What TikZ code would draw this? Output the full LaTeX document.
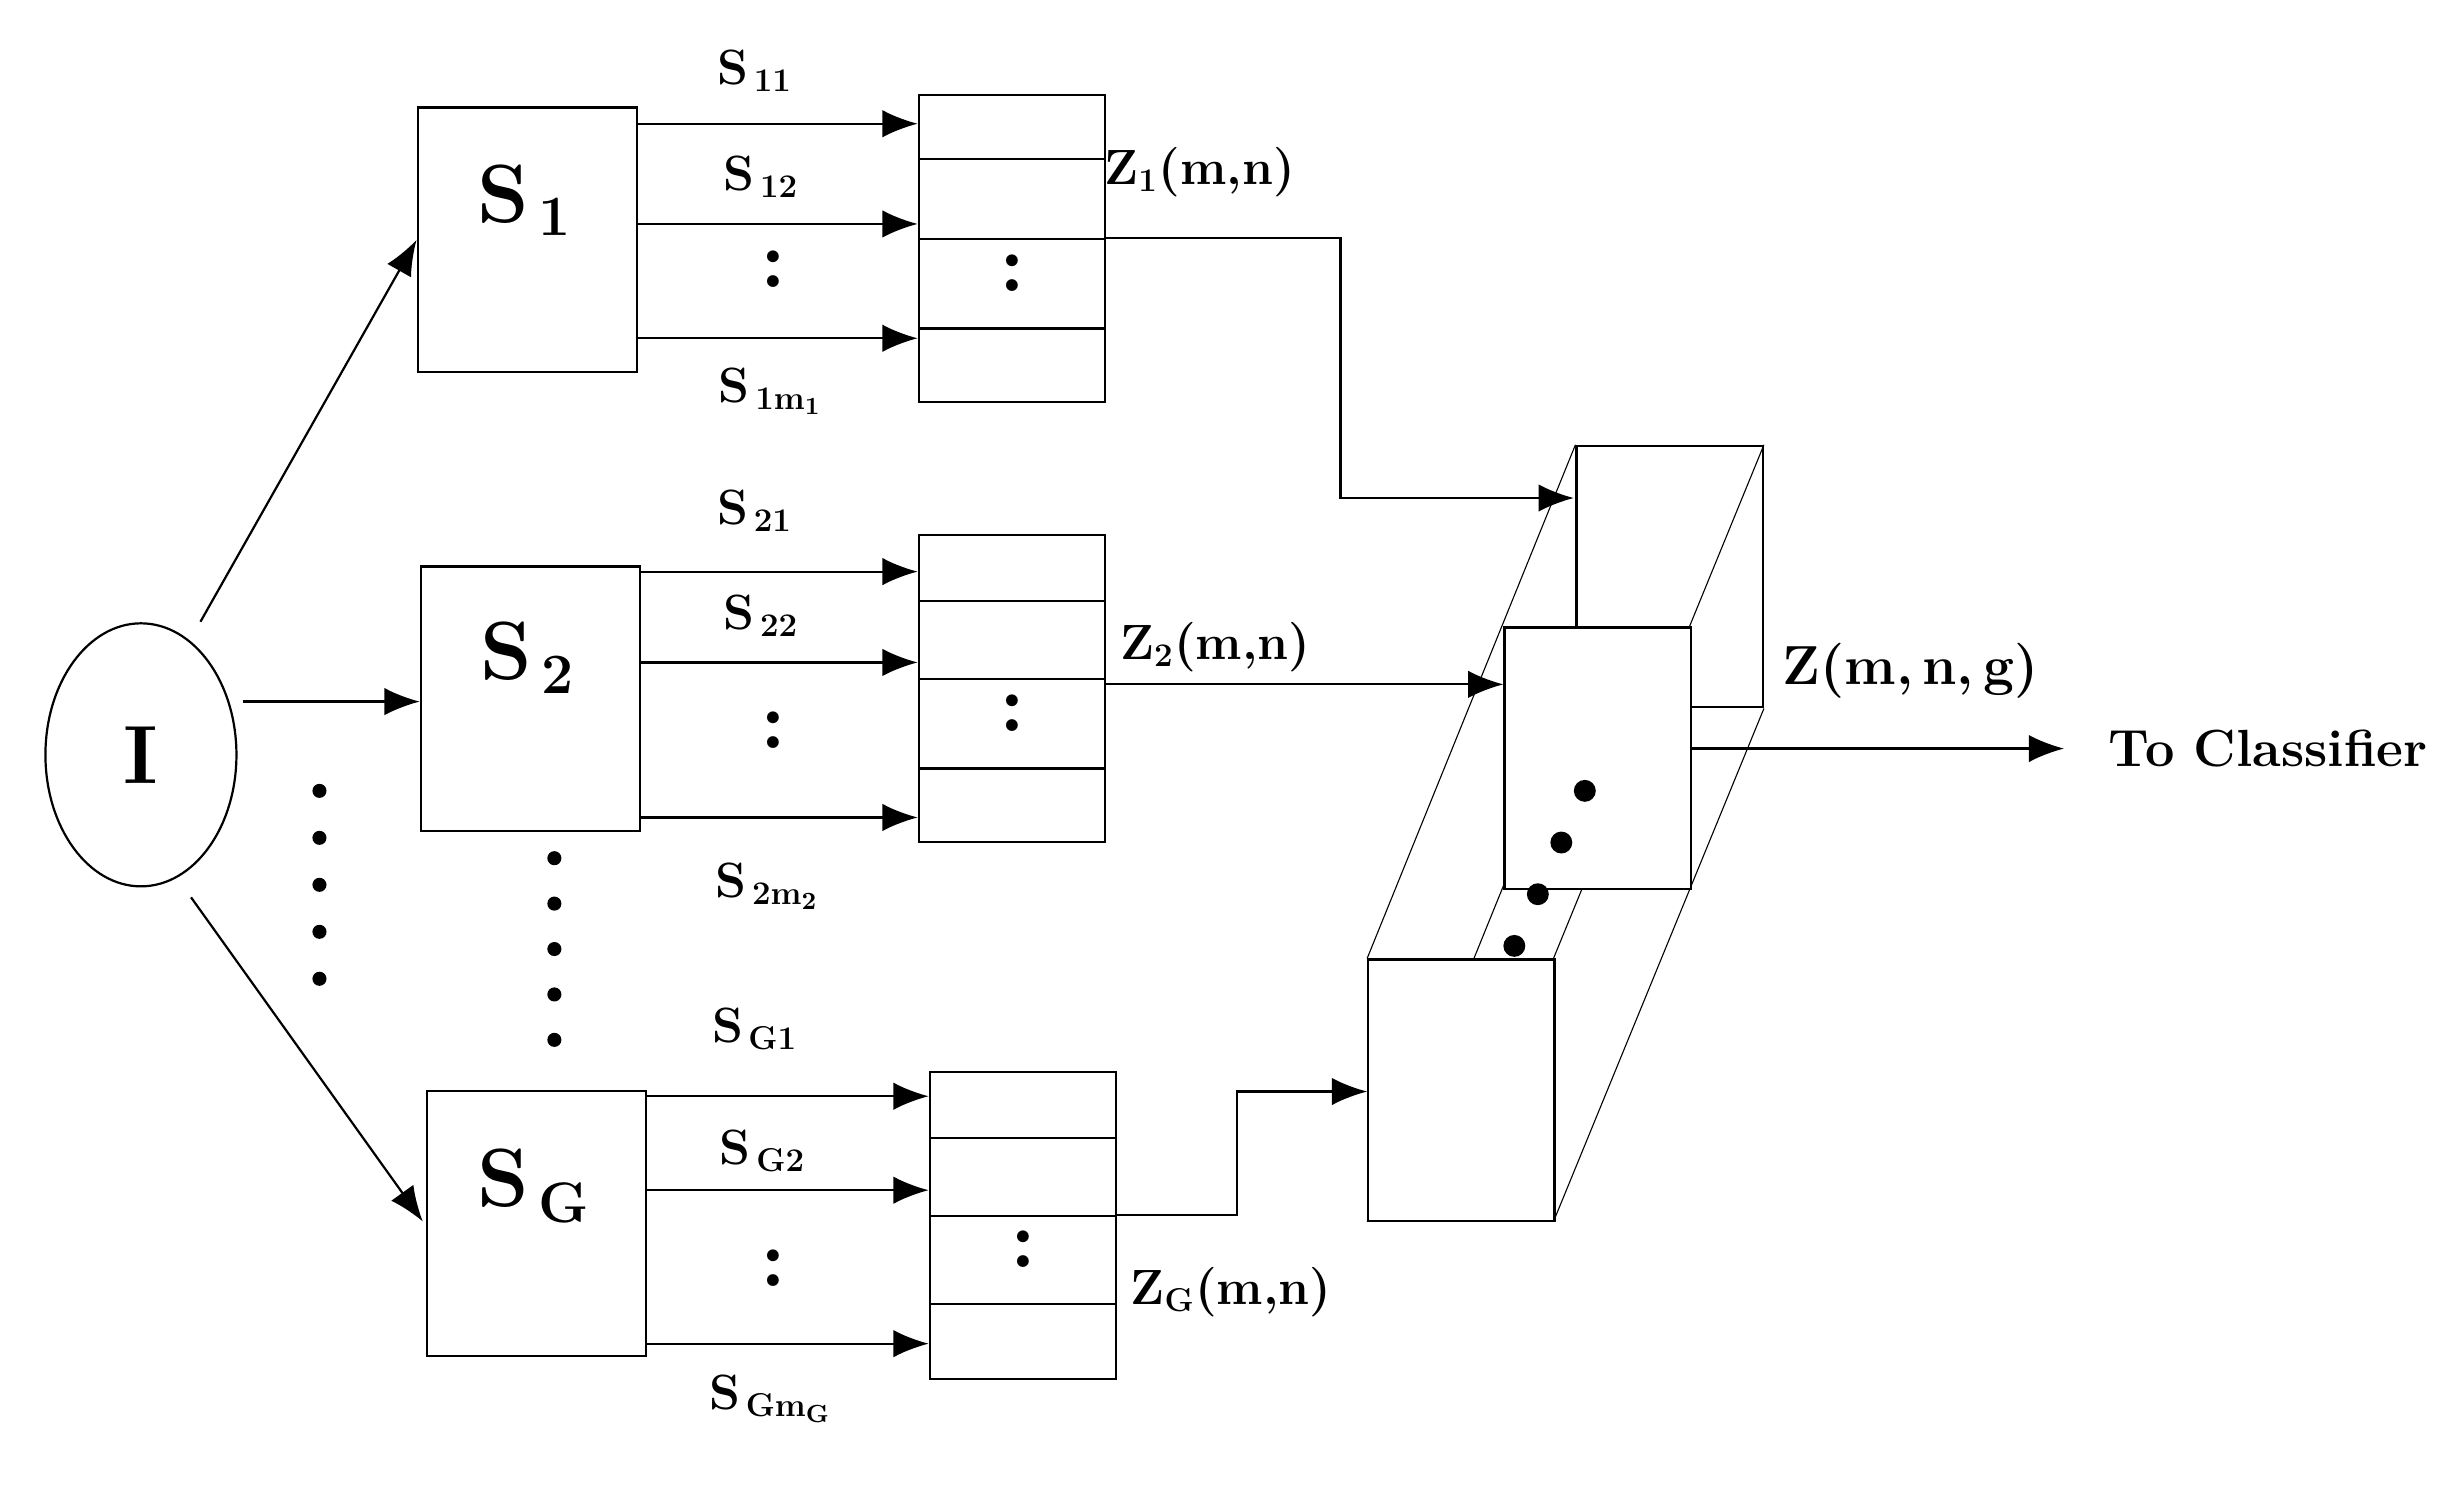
\documentclass[tikz,border=0pt]{standalone}
\usepackage{amsmath}
\usetikzlibrary{positioning,shapes.geometric,arrows.meta}

\begin{document}
\begin{tikzpicture}
[x=0.02cm, y=-0.02cm,
 box/.style={rectangle, draw=black, thick, minimum width=2.8cm, minimum height=3.38cm, anchor=north west, inner sep=0pt},
 cell/.style={rectangle, draw=black, thick, minimum width=2.38cm, anchor=north west, inner sep=0pt},
 face/.style={rectangle, draw=black, thick, fill=white, minimum width=2.38cm, minimum height=3.34cm, anchor=north west, inner sep=0pt},
 lbl/.style={font=\fontsize{18}{20}\selectfont\bfseries},
 big/.style={font=\fontsize{30}{32}\selectfont\bfseries},
 arr/.style={-{Latex[length=4.5mm,width=3.5mm]}, thick}]

\useasboundingbox (0,0) rectangle (1560,951);

%Nodes
\node[draw, thick, ellipse, minimum width=2.44cm, minimum height=3.36cm, big] (img) at (90,482) {I};
\node[box] (s1) at (266,68) {};
\node[box] (s2) at (268,361) {};
\node[box] (sg) at (272,696) {};
\node[big] at (335,128) {S$_{\,\mathbf 1}$};
\node[big] at (337,420) {S$_{\,\mathbf 2}$};
\node[big] at (341,757) {S$_{\,\mathbf G}$};

% stacks
\foreach \n/\x/\a/\b/\c/\d/\e in {st1/586/60/101/152/209/256, st2/586/341/383/433/490/537, stg/593/684/726/776/832/880}{
  \node[cell, minimum height=(\b-\a)*0.02cm] (\n a) at (\x,\a) {};
  \node[cell, minimum height=(\c-\b)*0.02cm] (\n b) at (\x,\b) {};
  \node[cell, minimum height=(\d-\c)*0.02cm, big] (\n c) at (\x,\c) {};
  \node[cell, minimum height=(\e-\d)*0.02cm] (\n d) at (\x,\d) {};
  \node[big] at ([yshift=4pt]\n c.center) {:};
}

% 3D block
\node[face] (back) at (1006,284) {};
\draw[thin] (back.north west) -- (873,612);
\draw[thin] (back.north east) -- (992,612);
\draw[thin] (back.south east) -- (992,780);
\draw[thin] (back.south west) -- (873,780);
\node[face] (mid) at (960,400) {};
\node[face] (front) at (873,612) {};
\foreach \px/\py in {1012/505, 997/538, 982/571, 967/604}
  \fill (\px,\py) circle (0.14cm);

%Lines
\draw[arr] (128,397) -- (s1.west);
\draw[arr] (155,448) -- (268,448);
\draw[arr] (122,573) -- (270,780);

\foreach \y in {79,143,216} \draw[arr] (406,\y) -- (586,\y);
\foreach \y in {365,423,522} \draw[arr] (408,\y) -- (586,\y);
\foreach \y in {700,760,858} \draw[arr] (412,\y) -- (593,\y);

\node[lbl] at (482,45) {S$_{\,\mathbf{11}}$};
\node[lbl] at (486,113) {S$_{\,\mathbf{12}}$};
\node[big] at (494,172) {:};
\node[lbl] at (492,250) {S$_{\,\mathbf{1m_1}}$};
\node[lbl] at (482,326) {S$_{\,\mathbf{21}}$};
\node[lbl] at (486,393) {S$_{\,\mathbf{22}}$};
\node[big] at (494,466) {:};
\node[lbl] at (490,566) {S$_{\,\mathbf{2m_2}}$};
\node[lbl] at (482,657) {S$_{\,\mathbf{G1}}$};
\node[lbl] at (487,735) {S$_{\,\mathbf{G2}}$};
\node[big] at (494,810) {:};
\node[lbl] at (492,893) {S$_{\,\mathbf{Gm_G}}$};

\foreach \k in {0,...,4} {
  \fill (204,505+\k*30) circle (0.09cm);
  \fill (354,548+\k*29) circle (0.09cm);
}

\draw[arr] (st1c.north east) -- (856,152) -- (856,318) -- (1005,318);
\node[lbl] at (766,110) {Z$_{\mathbf 1}$(m,n)};
\draw[arr] (705,437) -- (mid.west |- 0,437);
\node[lbl] at (776,413) {Z$_{\mathbf 2}$(m,n)};
\draw[arr] (stgc.north east) -- (790,776) -- (790,697) -- (front.west |- 0,697);
\node[lbl] at (786,825) {Z$_{\mathbf G}$(m,n)};

\draw[arr] (1079,478) coordinate (out) -- (1318,478) coordinate (cls);
\node[lbl, font=\fontsize{20}{22}\selectfont\bfseries] at (1220,428) {Z(m,\,n,\,g)};
\node[lbl, font=\fontsize{19}{21}\selectfont\bfseries, right=0.45cm of cls] {To Classifier};

\end{tikzpicture}
\end{document}
